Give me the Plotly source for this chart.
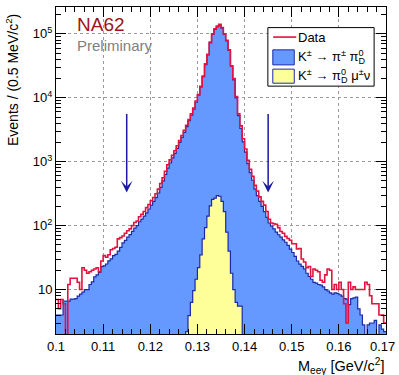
import numpy as np
import plotly.graph_objects as go

# ---------------- data ----------------
BIN_LO = 0.100          # GeV/c^2
BIN_W = 0.0005          # 0.5 MeV/c^2
N_BINS = 140

data_counts = [
    7, 5, 7, 6, 1, 12, 15, 15, 15, 13,
    10, 22, 20, 18, 19, 20, 21, 22, 19, 28,
    34, 32, 35, 42, 44, 46, 62, 65, 69, 76,
    83, 89, 100, 112, 118, 138, 151, 166, 191, 214,
    245, 275, 316, 372, 457, 562, 708, 891, 1070, 1260,
    1480, 1780, 2140, 2570, 3090, 3720, 4570, 5620, 6920, 8910,
    11200, 15100, 21900, 33900, 47900, 74100, 100000, 120000, 132000, 141000,
    126000, 100000, 79400, 56200, 31600, 20000, 10500, 5600, 3630, 2290,
    1580, 1050, 760, 590, 427, 347, 282, 240, 209, 166,
    126, 110, 107, 105, 93, 81, 76, 68, 63, 59,
    52, 52, 43, 44, 30, 27, 22, 23, 16, 21,
    20, 19, 14, 13, 17, 21, 20, 10, 12, 10,
    13, 10, 6, 3, 13, 10, 11, 10, 10, 10,
    10, 13, 12, 8, 6, 6, 6, 4, 4, 3,
]

kpi_mc = [
    4.0, 4.0, 4.0, 6.6, 6.6, 6.6, 7.1, 7.1, 7.2, 7.9,
    8.5, 9.1, 10.0, 10.0, 12.0, 13.2, 15.8, 17.0, 18.6, 22.9,
    23.4, 25.1, 28.2, 30.2, 33.9, 35.5, 39.8, 45.7, 53.7, 58.9,
    66.1, 72.4, 81.3, 91.2, 100, 115, 126, 141, 158, 182,
    209, 240, 275, 324, 398, 501, 631, 794, 955, 1150,
    1350, 1620, 2000, 2400, 2880, 3550, 4370, 5370, 6610, 8510,
    11000, 14800, 21400, 33100, 46800, 72400, 97700, 117000, 129000, 138000,
    123000, 97700, 77600, 55000, 30900, 19100, 10000, 5250, 3310, 2040,
    1410, 933, 676, 513, 372, 295, 240, 200, 166, 135,
    110, 98, 89, 79, 72, 66, 60, 55, 49, 43,
    38, 33, 28, 25, 23, 21, 18, 16, 14.5, 13,
    12.6, 12, 11.7, 11, 10, 9.5, 8.9, 8.5, 8.9, 8.7,
    8.3, 7.9, 7.2, 7.1, 5.8, 7.2, 7.4, 7.6, 5.0, 4.0,
    2.8, 1.5, 2.8, 3.0, 3.0, 3.3, 1.8, 2.8, 2.4, 2.2,
]

kmu_first_bin = 55
kmu_mc = [
    2.2, 3.9, 6.3, 9.6, 14.5, 22, 35, 62, 93, 141,
    204, 257, 270, 295, 288, 240, 166, 79, 40, 18,
    10, 6.3, 5.5, 5.5,
]

x_ticks = [0.10, 0.11, 0.12, 0.13, 0.14, 0.15, 0.16, 0.17]
x_tick_text = ["0.1", "0.11", "0.12", "0.13", "0.14", "0.15", "0.16", "0.17"]
y_ticks = [10, 100, 1000, 10000, 100000]
y_tick_text = ["10", "10<sup>2</sup>", "10<sup>3</sup>", "10<sup>4</sup>", "10<sup>5</sup>"]

cut_positions = [0.115, 0.145]
arrow_top = 5900
arrow_tip = 330

# ---------------- styling ----------------
FONT = "Liberation Sans, Arial, Helvetica, sans-serif"
RED = "#e3123e"
BLUE_FILL = "#6699ff"
BLUE_LINE = "#1c2aa6"
YELLOW_FILL = "#ffff99"
ARROW_COL = "#1a1a9e"
TICK_SIZE = 13

edges = BIN_LO + BIN_W * np.arange(N_BINS + 1)
FLOOR = 1e-3  # below axis, used to close filled outlines


def step_xy(first_bin, values, close=False):
    n = len(values)
    xs = list(edges[first_bin:first_bin + n + 1])
    ys = list(values) + [values[-1]]
    if close:
        xs = [xs[0]] + xs + [xs[-1]]
        ys = [FLOOR] + ys + [FLOOR]
    return xs, ys


fig = go.Figure()

x, y = step_xy(0, kpi_mc)
fig.add_trace(go.Scatter(x=x, y=y, mode="lines", line_shape="hv",
                         line=dict(color=BLUE_LINE, width=1.2),
                         fill="tozeroy", fillcolor=BLUE_FILL, showlegend=False,
                         hoverinfo="skip"))

x, y = step_xy(kmu_first_bin, kmu_mc, close=True)
fig.add_trace(go.Scatter(x=x, y=y, mode="lines", line_shape="hv",
                         line=dict(color=BLUE_LINE, width=1.2),
                         fill="tozeroy", fillcolor=YELLOW_FILL, showlegend=False,
                         hoverinfo="skip"))

x, y = step_xy(0, data_counts)
fig.add_trace(go.Scatter(x=x, y=y, mode="lines", line_shape="hv",
                         line=dict(color=RED, width=1.6), showlegend=False,
                         hoverinfo="skip"))

x_minor = [v for v in np.round(np.arange(0.100, 0.1701, 0.002), 4)
           if min(abs(v - t) for t in x_ticks) > 1e-6]
y_minor = [m * 10 ** k for k in range(0, 6) for m in range(2, 10)]

axis_common = dict(
    showline=True, linecolor="black", linewidth=1, mirror="allticks",
    ticks="inside", ticklen=10, tickwidth=1, tickcolor="black",
    showgrid=True, gridcolor="#9a9a9a", griddash="dot", gridwidth=1,
    zeroline=False, tickfont=dict(family=FONT, size=TICK_SIZE, color="black"),
)

# last x label is drawn as an annotation so it stays inside the page
x_tick_text_axis = x_tick_text[:-1] + [""]

fig.update_xaxes(range=[0.1, 0.17], tickmode="array", tickvals=x_ticks,
                 ticktext=x_tick_text_axis,
                 minor=dict(tickmode="array", tickvals=x_minor, ticks="inside",
                            ticklen=5, tickcolor="black", showgrid=False),
                 **axis_common)
fig.update_yaxes(type="log", range=[0.305, 5.42], tickmode="array",
                 tickvals=y_ticks, ticktext=y_tick_text,
                 minor=dict(tickmode="array", tickvals=y_minor, ticks="inside",
                            ticklen=5, tickcolor="black", showgrid=False),
                 **axis_common)

annotations = [
    dict(text="Events / (0.5 MeV/c<sup>2</sup>)", xref="paper", yref="paper",
         x=-0.133, y=0.777, textangle=-90, showarrow=False,
         xanchor="center", yanchor="middle",
         font=dict(family=FONT, size=14, color="black")),
    dict(text="M<sub>eeγ</sub> [GeV/c<sup>2</sup>]", xref="paper", yref="paper",
         x=1.0, y=-0.062, showarrow=False, xanchor="right", yanchor="top",
         font=dict(family=FONT, size=14.5, color="black")),
    dict(text=x_tick_text[-1], xref="x", yref="paper", x=x_ticks[-1], y=0,
         yshift=-3, xshift=-4, showarrow=False, xanchor="center", yanchor="top",
         font=dict(family=FONT, size=TICK_SIZE, color="black")),
    dict(text="NA62", xref="paper", yref="paper", x=0.058, y=0.945,
         showarrow=False, xanchor="left", yanchor="middle",
         font=dict(family=FONT, size=19, color="#a01414")),
    dict(text="Preliminary", xref="paper", yref="paper", x=0.058, y=0.882,
         showarrow=False, xanchor="left", yanchor="middle",
         font=dict(family=FONT, size=15, color="#808080")),
]

for cx in cut_positions:
    annotations.append(dict(
        x=cx, y=np.log10(arrow_tip), ax=cx, ay=np.log10(arrow_top),
        xref="x", yref="y", axref="x", ayref="y", text="",
        showarrow=True, arrowhead=3, arrowsize=1.3, arrowwidth=1.5,
        arrowcolor=ARROW_COL))

# legend (drawn manually, ROOT style); the "0" superscript and "D" subscript
# are stacked by pulling the subscript back under the superscript
PI0D = 'π<sup><span style="letter-spacing:-5px">0</span></sup><sub>D</sub>'
legend_labels = ["Data",
                 "K<sup>±</sup> → π<sup>±</sup> " + PI0D,
                 "K<sup>±</sup> → " + PI0D + " μ<sup>±</sup>ν"]
legend_y = [0.908, 0.846, 0.788]
for lab, ly in zip(legend_labels, legend_y):
    annotations.append(dict(text=lab, xref="paper", yref="paper", x=0.726, y=ly,
                            showarrow=False, xanchor="left", yanchor="middle",
                            font=dict(family=FONT, size=13, color="black")))

shapes = [
    dict(type="rect", xref="paper", yref="paper", x0=0.642, x1=0.964,
         y0=0.758, y1=0.937, line=dict(color="black", width=1),
         fillcolor="white", layer="above"),
    dict(type="line", xref="paper", yref="paper", x0=0.658, x1=0.728,
         y0=0.908, y1=0.908, line=dict(color=RED, width=1.6), layer="above"),
    dict(type="rect", xref="paper", yref="paper", x0=0.657, x1=0.722,
         y0=0.823, y1=0.869, line=dict(color=BLUE_LINE, width=1),
         fillcolor=BLUE_FILL, layer="above"),
    dict(type="rect", xref="paper", yref="paper", x0=0.657, x1=0.722,
         y0=0.767, y1=0.810, line=dict(color=BLUE_LINE, width=1),
         fillcolor=YELLOW_FILL, layer="above"),
]

fig.update_layout(
    width=399, height=375,
    margin=dict(l=56, r=13, t=7, b=41),
    plot_bgcolor="white", paper_bgcolor="white",
    annotations=annotations, shapes=shapes, showlegend=False,
    font=dict(family=FONT), hovermode=False,
)

fig.write_html("out.html",
               config={"displayModeBar": False, "staticPlot": True},
               post_script="document.body.style.margin='0px';"
                           "document.body.style.padding='0px';")
